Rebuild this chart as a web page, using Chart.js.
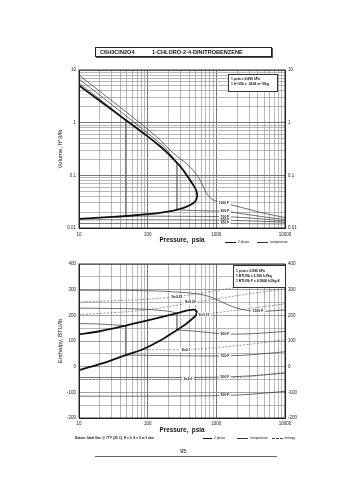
<!DOCTYPE html>
<html><head><meta charset="utf-8">
<script src="https://cdn.jsdelivr.net/npm/chart.js@4.4.1/dist/chart.umd.min.js"></script>
<style>
html,body{margin:0;padding:0;background:#fff;}
body{width:355px;height:480px;position:relative;overflow:hidden;font-family:"Liberation Sans",Arial,sans-serif;color:#111;}
.abs{position:absolute;white-space:nowrap;filter:grayscale(1);}
#title{left:95px;top:47px;width:177px;height:10px;box-sizing:border-box;border:1px solid #222;box-shadow:1px 1px 0 #555;font-size:5.6px;font-weight:bold;line-height:8px;background:#fff;}
#title span{position:absolute;top:0;}
#c1{position:absolute;left:0;top:60px;}
#c2{position:absolute;left:0;top:255px;}
.info{box-sizing:border-box;border:0.8px solid #333;background:#fff;font-size:3.4px;line-height:5px;padding:2px 0 0 2px;font-weight:bold;}
.leg{font-size:3.2px;line-height:4px;background:#fff;}
.ln{display:inline-block;vertical-align:middle;width:11px;margin-right:2px;}
</style>
</head><body>
<div id="title" class="abs"><span style="left:4px">C6H3ClN2O4</span><span style="left:56px">1-CHLORO-2-4-DINITROBENZENE</span></div>
<canvas id="c1" width="355" height="184"></canvas>
<canvas id="c2" width="355" height="180"></canvas>
<div class="abs info" style="left:228px;top:74px;width:50px;height:18px;">1 psia = 6.895 kPa<br>1 ft^3/lb = .0624 m^3/kg</div>
<div class="abs info" style="left:233px;top:265px;width:53px;height:23px;padding-top:3px;">1 psia = 6.895 kPa<br>1 BTU/lb = 2.326 kJ/kg<br>1 BTU/lb F = 4.1868 kJ/kg K</div>
<div class="abs leg" style="left:225px;top:240px;"><span class="ln" style="border-top:1.6px solid #111"></span>2 phase<span class="ln" style="border-top:0.7px solid #333;margin-left:8px"></span>temperature</div>
<div class="abs leg" style="left:203px;top:436px;"><span class="ln" style="border-top:1.6px solid #111;width:9px"></span>2 phase<span class="ln" style="border-top:0.7px solid #333;margin-left:12px"></span>temperature<span class="ln" style="border-top:0.7px dashed #444;margin-left:4px"></span>entropy</div>
<div class="abs leg" style="left:75px;top:436px;font-weight:bold;">Datum: Ideal Gas @ 77 F (25 C), H = 0, S = 0 at 1 atm</div>
<div class="abs" style="left:180px;top:448px;font-size:6px;">95</div>
<div class="abs" style="left:95px;top:456px;width:182px;border-top:0.6px solid #666;"></div>
<script>
// ---------- axes ----------
const pressureLabels = [10, 100, 1000, 10000];
const volumeLabels = [0.01, 0.1, 1, 10];
const enthalpyLabels = [-200, -100, 0, 100, 200, 300, 400];

// ---------- top chart: Volume vs Pressure ----------
const domeVapP_v = [10, 20, 50, 100, 150, 200, 300, 413, 470, 505, 527];
const domeVapV   = [5.1, 2.6, 1.08, 0.55, 0.36, 0.255, 0.146, 0.082, 0.063, 0.053, 0.0425];
const domeLiqP_v = [515, 489, 430, 369, 300, 236, 135, 77, 30, 10];
const domeLiqV   = [0.036, 0.0317, 0.028, 0.0255, 0.0232, 0.0214, 0.019, 0.0178, 0.0162, 0.0149];

const t1100P_v = [10, 20, 50, 100, 151, 236, 413, 577, 722, 902, 1290, 1670, 3000, 5000, 10000];
const t1100V   = [8.0, 3.95, 1.55, 0.75, 0.47, 0.263, 0.146, 0.082, 0.0457, 0.034, 0.0301, 0.0274, 0.0225, 0.019, 0.0158];
const t900VapP_v = [10, 20, 50, 100, 150, 200, 267];
const t900VapV   = [6.75, 3.35, 1.3, 0.63, 0.41, 0.28, 0.176];
const t900LiqP_v = [267, 400, 700, 1335, 2500, 5000, 10000];
const t900LiqV   = [0.0222, 0.0216, 0.0212, 0.0207, 0.0185, 0.0162, 0.0145];
const t700VapP_v = [10, 20, 30, 48];
const t700VapV   = [5.66, 2.8, 1.85, 1.13];
const t700LiqP_v = [48, 100, 500, 1335, 3000, 10000];
const t700LiqV   = [0.0169, 0.0168, 0.0166, 0.0164, 0.0155, 0.0136];
const t500P_v = [10, 100, 1000, 3000, 10000];
const t500V   = [0.0143, 0.0143, 0.0141, 0.0137, 0.0129];
const t300P_v = [10, 100, 1000, 3000, 10000];
const t300V   = [0.0122, 0.0122, 0.0122, 0.0121, 0.0120];

const topLabelText = ['1100 F', '900 F', '700 F', '500 F', '300 F'];
const topLabelP    = [1290, 1335, 1335, 1335, 1335];
const topLabelV    = [0.0301, 0.0207, 0.0164, 0.0140, 0.0122];

// ---------- bottom chart: Enthalpy vs Pressure ----------
const domeVapP_h = [10, 20, 48, 100, 200, 300, 400, 470, 505, 527];
const domeVapH   = [126, 138, 160, 180, 200, 212, 220, 222, 218, 210];
const domeLiqP_h = [515, 490, 430, 349, 267, 160, 82, 48, 27, 10];
const domeLiqH   = [204, 196, 183, 163, 143, 105, 66, 45, 21, -14];

const t1100P_h = [10, 100, 300, 640, 1000, 1480, 2000, 3000, 5000, 10000];
const t1100H   = [298, 296, 290, 280, 262, 241, 228, 218, 216, 221];
const t900VapP_h = [10, 50, 100, 200, 267];
const t900VapH   = [228, 226, 223, 216, 209];
const t900LiqP_h = [267, 500, 1000, 1335, 3000, 10000];
const t900LiqH   = [143, 138, 130, 127, 128, 137];
const t700VapP_h = [10, 20, 48];
const t700VapH   = [168, 166, 160];
const t700LiqP_h = [48, 100, 500, 1335, 3000, 10000];
const t700LiqH   = [45, 44, 42, 42, 46, 58];
const t500P_h = [10, 100, 1000, 3000, 10000];
const t500H   = [-42, -42, -41, -36, -25];
const t300P_h = [10, 100, 1000, 3000, 10000];
const t300H   = [-115, -115, -113, -108, -96];

const s025P = [10, 50, 100, 250, 500, 1000, 3000, 10000];
const s025H = [252, 259, 263, 272, 283, 297, 316, 332];
const s020P = [10, 50, 100, 200, 450, 1000, 3000, 10000];
const s020H = [203, 214, 222, 234, 250, 264, 284, 303];
const s015P = [500, 660, 1000, 3000, 10000];
const s015H = [198, 202, 210, 226, 245];
const s010P = [82, 200, 400, 1000, 3000, 10000];
const s010H = [66, 66, 67, 74, 87, 105];
const s000P = [10, 100, 400, 1000, 3000, 10000];
const s000H = [-50, -50, -49, -47, -39, -22];

const botLabelText = ['1100 F', '900 F', '700 F', '500 F', '300 F', 'S=0.25', 'S=0.20', 'S=0.15', 'S=0.1', 'S=0.0'];
const botLabelP    = [4040, 1335, 1335, 1335, 1335, 267, 420, 660, 360, 386];
const botLabelH    = [216, 127, 42, -40, -112, 272, 250, 202, 66, -49];

// ---------- helpers ----------
const pts = (xs, ys) => xs.map((x, i) => ({x, y: ys[i]}));
const near = (a, b) => Math.abs(a - b) <= Math.abs(b) * 1e-6;
function logGrid(lo, hi) {
  const out = [];
  for (let d = lo; d < hi * 1.0001; d *= 10) {
    for (let k = 1; k <= 9; k++) {
      const v = +(d * k).toPrecision(6);
      if (v <= hi * 1.0001) out.push(v);
    }
  }
  return out;
}
const isIn = (v, arr) => arr.some(a => near(v, a));
const FONT = '"Liberation Sans", Arial, sans-serif';

const TWO = {borderColor: '#111', borderWidth: 1.8, tension: 0.35};
const TEMP = {borderColor: '#333', borderWidth: 0.7, tension: 0.3};
const ENT = {borderColor: '#555', borderWidth: 0.6, borderDash: [2, 1.5], tension: 0.3};
const TIE = {borderColor: '#666', borderWidth: 0.6, tension: 0};
function ds(data, style) { return Object.assign({data, pointRadius: 0, pointHoverRadius: 0, fill: false}, style); }

const lineLabels = {
  id: 'lineLabels',
  afterDatasetsDraw(chart, args, opts) {
    const {ctx} = chart; const xs = chart.scales.x, ys = chart.scales.y;
    ctx.save();
    ctx.font = 'bold 3.4px ' + FONT; ctx.textAlign = 'center'; ctx.textBaseline = 'middle';
    opts.text.forEach((t, i) => {
      const px = xs.getPixelForValue(opts.xv[i]), py = ys.getPixelForValue(opts.yv[i]);
      const w = ctx.measureText(t).width + 3;
      ctx.fillStyle = '#fff'; ctx.fillRect(px - w / 2, py - 2.2, w, 4.4);
      ctx.fillStyle = '#111'; ctx.fillText(t, px, py);
    });
    ctx.restore();
  }
};
const frame = {
  id: 'frame',
  afterDraw(chart) {
    const {ctx, chartArea: a} = chart;
    ctx.save(); ctx.strokeStyle = '#222'; ctx.lineWidth = 0.9;
    ctx.strokeRect(a.left, a.top, a.right - a.left, a.bottom - a.top);
    ctx.restore();
  }
};

const xGrid = logGrid(10, 10000);
function xScale(pad, h, titlePadBottom) {
  return {
    type: 'logarithmic', min: 10, max: 10000,
    afterBuildTicks: s => { s.ticks = xGrid.map(v => ({value: v})); },
    afterFit: s => { s.height = h; },
    ticks: {autoSkip: false, maxRotation: 0, padding: pad, color: '#222', font: {size: 4.5, family: FONT},
      callback: v => isIn(v, pressureLabels) ? String(v) : ''},
    grid: {drawTicks: false, color: c => isIn(c.tick.value, pressureLabels) ? '#666' : '#9a9a9a',
      lineWidth: c => isIn(c.tick.value, pressureLabels) ? 0.9 : 0.7},
    border: {display: true, color: '#222'},
    title: {display: true, text: 'Pressure,  psia', color: '#111', font: {size: 6.3, weight: 'bold', family: FONT}, padding: {top: 0, bottom: titlePadBottom}}
  };
}

// ---------- chart 1 ----------
const yGrid1 = logGrid(0.01, 10);
const volTick = v => isIn(v, volumeLabels) ? String(v) : '';
const c1 = new Chart(document.getElementById('c1'), {
  type: 'line',
  data: {datasets: [
    ds(pts(domeVapP_v.concat(domeLiqP_v), domeVapV.concat(domeLiqV)), TWO),
    ds(pts(t1100P_v, t1100V), TEMP),
    ds(pts(t900VapP_v, t900VapV), TEMP),
    ds([{x: t900VapP_v[t900VapP_v.length - 1], y: t900VapV[t900VapV.length - 1]}, {x: t900LiqP_v[0], y: t900LiqV[0]}], TIE),
    ds(pts(t900LiqP_v, t900LiqV), TEMP),
    ds(pts(t700VapP_v, t700VapV), TEMP),
    ds([{x: t700VapP_v[t700VapP_v.length - 1], y: t700VapV[t700VapV.length - 1]}, {x: t700LiqP_v[0], y: t700LiqV[0]}], TIE),
    ds(pts(t700LiqP_v, t700LiqV), TEMP),
    ds(pts(t500P_v, t500V), TEMP),
    ds(pts(t300P_v, t300V), TEMP)
  ]},
  options: {
    responsive: false, animation: false, devicePixelRatio: 1,
    layout: {padding: {left: 55, right: 0, top: 10, bottom: 0}},
    plugins: {legend: {display: false}, tooltip: {enabled: false},
      lineLabels: {text: topLabelText, xv: topLabelP, yv: topLabelV}},
    scales: {
      x: xScale(4.5, 16, 0),
      y: {type: 'logarithmic', position: 'left', min: 0.01, max: 10,
        afterBuildTicks: s => { s.ticks = yGrid1.map(v => ({value: v})); },
        afterFit: s => { s.width = 24; },
        ticks: {autoSkip: false, padding: 3, color: '#222', font: {size: 4.5, family: FONT}, callback: volTick},
        grid: {drawTicks: false, color: c => isIn(c.tick.value, volumeLabels) ? '#666' : '#9a9a9a',
          lineWidth: c => isIn(c.tick.value, volumeLabels) ? 0.9 : 0.7},
        border: {display: true, color: '#222'},
        title: {display: true, text: 'Volume, ft^3/lb', color: '#111', font: {size: 6, family: FONT}, padding: {top: 2, bottom: 0}}},
      y2: {type: 'logarithmic', position: 'right', min: 0.01, max: 10,
        afterBuildTicks: s => { s.ticks = yGrid1.map(v => ({value: v})); },
        afterFit: s => { s.width = 70; },
        ticks: {autoSkip: false, padding: 3, color: '#222', font: {size: 4.5, family: FONT}, callback: volTick},
        grid: {display: false, drawTicks: false}, border: {display: true, color: '#222'}}
    }
  },
  plugins: [lineLabels, frame]
});

// ---------- chart 2 ----------
const yGrid2 = [];
for (let v = -200; v <= 400; v += 50) yGrid2.push(v);
const hTick = v => isIn(v, enthalpyLabels) ? String(v) : '';
const c2 = new Chart(document.getElementById('c2'), {
  type: 'line',
  data: {datasets: [
    ds(pts(domeVapP_h.concat(domeLiqP_h), domeVapH.concat(domeLiqH)), TWO),
    ds(pts(t1100P_h, t1100H), TEMP),
    ds(pts(t900VapP_h, t900VapH), TEMP),
    ds([{x: t900VapP_h[t900VapP_h.length - 1], y: t900VapH[t900VapH.length - 1]}, {x: t900LiqP_h[0], y: t900LiqH[0]}], TIE),
    ds(pts(t900LiqP_h, t900LiqH), TEMP),
    ds(pts(t700VapP_h, t700VapH), TEMP),
    ds([{x: t700VapP_h[t700VapP_h.length - 1], y: t700VapH[t700VapH.length - 1]}, {x: t700LiqP_h[0], y: t700LiqH[0]}], TIE),
    ds(pts(t700LiqP_h, t700LiqH), TEMP),
    ds(pts(t500P_h, t500H), TEMP),
    ds(pts(t300P_h, t300H), TEMP),
    ds(pts(s025P, s025H), ENT),
    ds(pts(s020P, s020H), ENT),
    ds(pts(s015P, s015H), ENT),
    ds(pts(s010P, s010H), ENT),
    ds(pts(s000P, s000H), ENT)
  ]},
  options: {
    responsive: false, animation: false, devicePixelRatio: 1,
    layout: {padding: {left: 55, right: 0, top: 9, bottom: 0}},
    plugins: {legend: {display: false}, tooltip: {enabled: false},
      lineLabels: {text: botLabelText, xv: botLabelP, yv: botLabelH}},
    scales: {
      x: xScale(3.5, 17, 1),
      y: {type: 'linear', position: 'left', min: -200, max: 400,
        afterBuildTicks: s => { s.ticks = yGrid2.map(v => ({value: v})); },
        afterFit: s => { s.width = 24; },
        ticks: {autoSkip: false, padding: 3, color: '#222', font: {size: 4.5, family: FONT}, callback: hTick},
        grid: {drawTicks: false, color: c => isIn(c.tick.value, enthalpyLabels) ? '#777' : '#9a9a9a', lineWidth: 0.7},
        border: {display: true, color: '#222'},
        title: {display: true, text: 'Enthalpy, BTU/lb', color: '#111', font: {size: 6, family: FONT}, padding: {top: 2, bottom: 0}}},
      y2: {type: 'linear', position: 'right', min: -200, max: 400,
        afterBuildTicks: s => { s.ticks = yGrid2.map(v => ({value: v})); },
        afterFit: s => { s.width = 70; },
        ticks: {autoSkip: false, padding: 3, color: '#222', font: {size: 4.5, family: FONT}, callback: hTick},
        grid: {display: false, drawTicks: false}, border: {display: true, color: '#222'}}
    }
  },
  plugins: [lineLabels, frame]
});
</script>
</body></html>
